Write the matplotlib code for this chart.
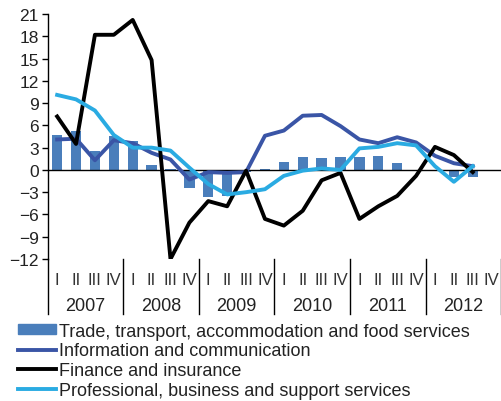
import numpy as np
import matplotlib.pyplot as plt
from matplotlib.lines import Line2D
from matplotlib.patches import Patch

plt.rcParams['font.family'] = ['Liberation Sans', 'DejaVu Sans']

years = ['2007', '2008', '2009', '2010', '2011', '2012']
quarters = ['I', 'II', 'III', 'IV']

# Year-on-year change, % (2007 Q1 .. 2012 Q3)
trade = [4.7, 5.3, 2.6, 4.6, 3.9, 0.6, 0.1, -2.5, -3.7, -3.5, -0.3,
         0.1, 1.1, 1.8, 1.6, 1.8, 1.7, 1.9, 0.9, -0.1, 0.0, -1.0, -1.0]
info = [4.1, 4.2, 1.3, 4.0, 3.6, 2.3, 1.4, -1.3, -0.3, -0.4, -0.3,
        4.6, 5.3, 7.3, 7.4, 5.9, 4.1, 3.6, 4.4, 3.7, 1.9, 0.9, 0.5]
finance = [7.2, 3.5, 18.2, 18.2, 20.2, 14.8, -12.0, -7.1, -4.2, -4.9, -0.1,
           -6.6, -7.5, -5.5, -1.4, -0.4, -6.6, -4.9, -3.5, -0.8, 3.1, 2.0, -0.3]
prof = [10.1, 9.5, 8.0, 4.7, 3.0, 3.0, 2.6, 0.3, -1.9, -3.3, -3.0,
        -2.6, -0.8, -0.1, 0.2, 0.0, 2.9, 3.1, 3.6, 3.3, 0.5, -1.6, 0.5]

labels = ['Trade, transport, accommodation and food services',
          'Information and communication',
          'Finance and insurance',
          'Professional, business and support services']

c_bar = '#4a7ebb'
c_info = '#3a55a6'
c_fin = '#000000'
c_prof = '#2aabe2'

fig = plt.figure(figsize=(5.01, 4.02), dpi=100)
ax = fig.add_axes([0.0952, 0.3532, 0.905, 0.6095])

x = np.arange(len(trade))
ax.bar(x, trade, width=0.55, color=c_bar, zorder=2)
ax.axhline(0, color='black', lw=1, zorder=3)
ax.plot(x, info, color=c_info, lw=2.8, zorder=4)
ax.plot(x, finance, color=c_fin, lw=2.8, zorder=5)
ax.plot(x, prof, color=c_prof, lw=2.8, zorder=6)

ax.set_xlim(-0.5, 23.5)
ax.set_ylim(-12, 21)
ax.set_yticks(np.arange(-12, 22, 3))
ax.tick_params(axis='y', labelsize=12.5, length=4.5, width=1, pad=2,
               labelcolor='#222222')
ax.set_xticks([])
for s in ['top', 'right', 'bottom']:
    ax.spines[s].set_visible(False)
ax.spines['left'].set_linewidth(1)

# category axis: quarters, years and separators
tr = ax.get_xaxis_transform()
for i in range(24):
    ax.text(i, -0.082, quarters[i % 4], transform=tr, ha='center', va='center',
            fontsize=12, color='#333333')
for k, yr in enumerate(years):
    ax.text(4 * k + 1.5, -0.19, yr, transform=tr, ha='center', va='center',
            fontsize=13, color='#222222')
for k in range(7):
    ax.plot([4 * k - 0.5, 4 * k - 0.5], [0, -0.225], transform=tr,
            color='black', lw=1, clip_on=False)

handles = [Patch(color=c_bar),
           Line2D([], [], color=c_info, lw=2.8),
           Line2D([], [], color=c_fin, lw=2.8),
           Line2D([], [], color=c_prof, lw=2.8)]
fig.legend(handles, labels, loc='upper left', bbox_to_anchor=(0.036, 0.195),
           frameon=False, fontsize=13, handlelength=2.1, handleheight=0.5,
           handletextpad=0.15, labelspacing=0.15, borderpad=0, borderaxespad=0,
           labelcolor='#222222')

fig.savefig('out.png', dpi=100)
